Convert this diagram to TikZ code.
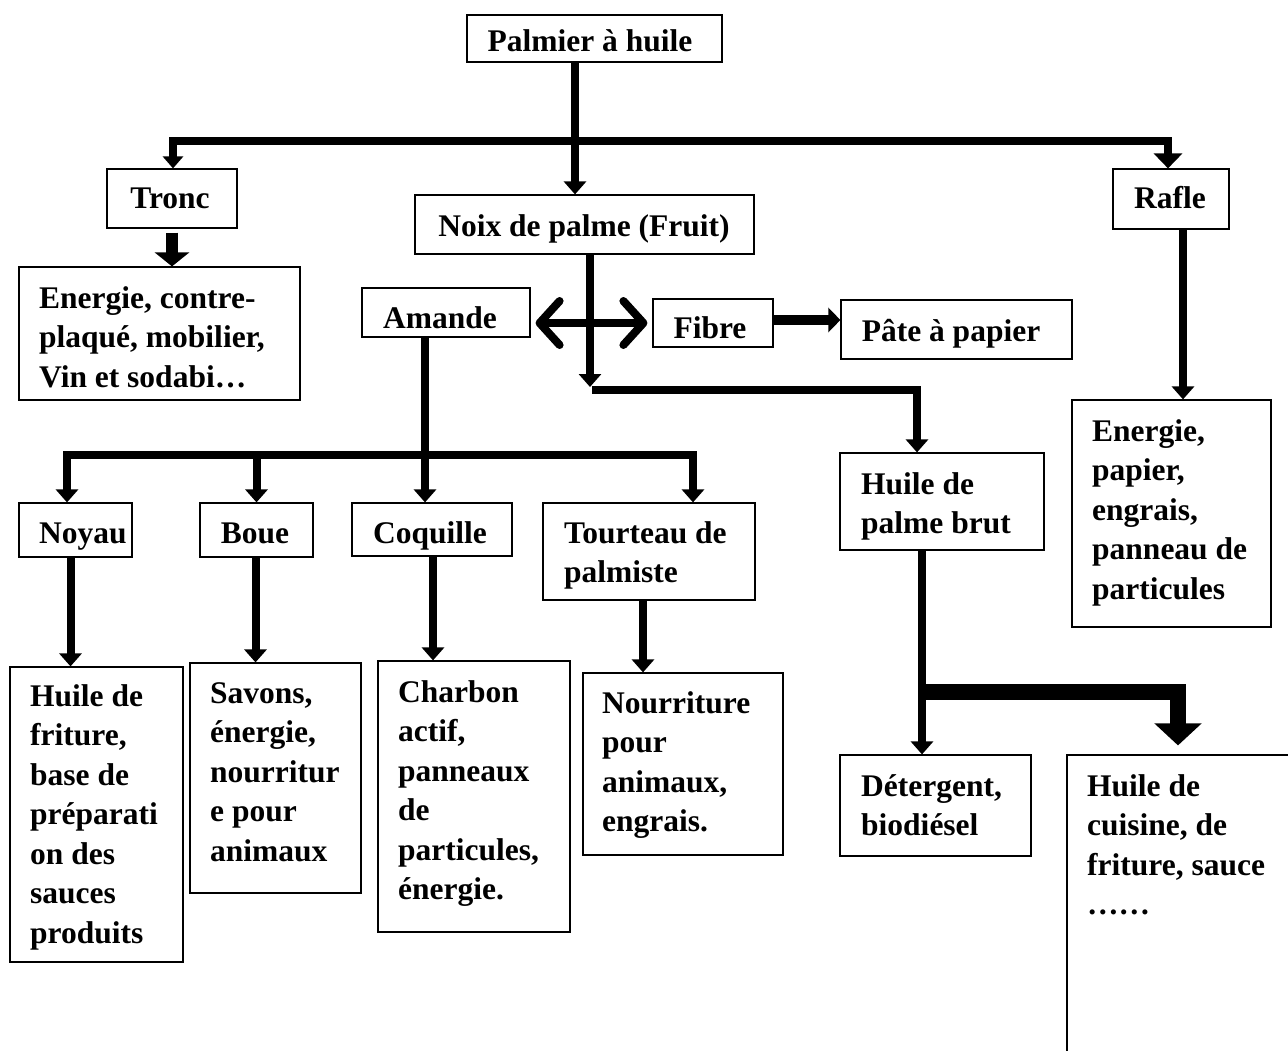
\documentclass[tikz,border=0pt]{standalone}
\usepackage{fontspec}
\setmainfont{Liberation Serif}
\usetikzlibrary{arrows.meta,fit}
\begin{document}
\begin{tikzpicture}[x=1pt,y=-1pt,
  box/.style={draw, line width=1.2pt, inner sep=0pt},
  lbl/.style={inner sep=0pt, anchor=base, font=\fontsize{31.5}{39.5}\selectfont\bfseries},
  ml/.style={inner sep=0pt, anchor=north west, align=left, yshift=27.65pt, font=\fontsize{31.5}{39.5}\selectfont\bfseries},
  conn/.style={line width=8pt, -{Triangle[length=13pt,width=22pt]}},
  both/.style={line width=8pt, {Triangle[length=13pt,width=22pt]}-{Triangle[length=13pt,width=22pt]}},
]
\useasboundingbox (0,0) rectangle (1288,1050);
\fill[white] (0,0) rectangle (1288,1050);

% ---- boxes
\node[box, fit={(467,15) (722,62)}] (palm) {};
\node[box, fit={(107,169) (237,228)}] (tronc) {};
\node[box, fit={(415,195) (754,254)}] (noix) {};
\node[box, fit={(1113,169) (1229,229)}] (rafle) {};
\node[box, fit={(19,267) (300,400)}] (ener) {};
\node[box, fit={(362,288) (530,337)}] (amande) {};
\node[box, fit={(653,299) (773,347)}] (fibre) {};
\node[box, fit={(841,300) (1072,359)}] (pate) {};
\node[box, fit={(1072,400) (1271,627)}] (rafo) {};
\node[box, fit={(840,453) (1044,550)}] (hpb) {};
\node[box, fit={(19,503) (132,557)}] (noyau) {};
\node[box, fit={(200,503) (313,557)}] (boue) {};
\node[box, fit={(352,503) (512,556)}] (coq) {};
\node[box, fit={(543,503) (755,600)}] (tourt) {};
\node[box, fit={(10,667) (183,962)}] (hf) {};
\node[box, fit={(190,663) (361,893)}] (sav) {};
\node[box, fit={(378,661) (570,932)}] (charb) {};
\node[box, fit={(583,673) (783,855)}] (nour) {};
\node[box, fit={(840,755) (1031,856)}] (det) {};
\node[box, fit={(1067,755) (1310,1080)}] (hc) {};

% ---- texts
\node[lbl] (palm-t) at (590,51) {Palmier à huile};
\node[lbl] (tronc-t) at (170,208) {Tronc};
\node[lbl] (noix-t) at (584,236) {Noix de palme (Fruit)};
\node[lbl] (rafle-t) at (1170,208) {Rafle};
\node[lbl] (amande-t) at (440,328) {Amande};
\node[lbl] (fibre-t) at (710,338) {Fibre};
\node[lbl] (pate-t) at (951,341) {Pâte à papier};
\node[lbl] (noyau-t) at (83,543) {Noyau};
\node[lbl] (boue-t) at (255,543) {Boue};
\node[lbl] (coq-t) at (430,543) {Coquille};

\node[ml] (ener-t) at (39,308) {\strut Energie, contre-\\plaqué, mobilier,\\Vin et sodabi…};
\node[ml] (rafo-t) at (1092,441) {\strut Energie,\\papier,\\engrais,\\panneau de\\particules};
\node[ml] (hpb-t) at (861,494) {\strut Huile de\\palme brut};
\node[ml] (tourt-t) at (564,543) {\strut Tourteau de\\palmiste};
\node[ml] (hf-t) at (30,706) {\strut Huile de\\friture,\\base de\\préparati\\on des\\sauces\\produits};
\node[ml] (sav-t) at (210,703) {\strut Savons,\\énergie,\\nourritur\\e pour\\animaux};
\node[ml] (charb-t) at (398,702) {\strut Charbon\\actif,\\panneaux\\de\\particules,\\énergie.};
\node[ml] (nour-t) at (602,713) {\strut Nourriture\\pour\\animaux,\\engrais.};
\node[ml] (det-t) at (861,796) {\strut Détergent,\\biodiésel};
\node[ml] (hc-t) at (1087,796) {\strut Huile de\\cuisine, de\\friture, sauce\\……};

% ---- junction coordinates
\coordinate (j1) at (575,141);
\coordinate (bt) at (173,141);
\coordinate (br) at (1168,141);
\coordinate (j2) at (590,387);
\coordinate (j2b) at (592,390);
\coordinate (j3) at (917,390);
\coordinate (ja) at (425,455);
\coordinate (bl) at (67,455);
\coordinate (bR) at (693,455);
\coordinate (hb) at (922,692);
\coordinate (hr) at (1178,692);

% ---- connectors
\draw[conn] (palm.south -| j1) -- (noix.north -| j1);
\draw[line width=8pt, {Triangle[length=15pt,width=28pt]}-{Triangle[length=12pt,width=20pt]}]
  (br |- rafle.north) -- (br) -- (bt) -- (bt |- tronc.north);
\draw[line width=12pt, -{Triangle[length=14pt,width=34pt]}]
  ([yshift=-4pt]tronc.south) -- (ener.north -| tronc.south);
\draw[conn] (noix.south -| j2) -- (j2);
\draw[conn] (j2b) -- (j3) -- (j3 |- hpb.north);
\draw[line width=8pt, {Straight Barb[round,length=20pt,width=44pt]}-{Straight Barb[round,length=20pt,width=44pt]}]
  ([xshift=5pt]amande.east |- fibre.west) -- ([xshift=-5pt]fibre.west);
\draw[line width=10pt, -{Triangle[length=12pt,width=24pt]}]
  ([yshift=3pt]fibre.east) -- ([yshift=3pt]pate.west |- fibre.east);
\draw[conn] (amande.south -| ja) -- (coq.north -| ja);
\draw[both] (noyau.north -| bl) -- (bl) -- (bR) -- (tourt.north -| bR);
\draw[conn] (boue.north |- bl) -- (boue.north);
\draw[conn] ([xshift=-5pt]noyau.south) -- ([xshift=-5pt]noyau.south |- hf.north);
\draw[conn] ([xshift=-1pt]boue.south) -- ([xshift=-1pt]boue.south |- sav.north);
\draw[conn] ([xshift=1pt]coq.south) -- ([xshift=1pt]coq.south |- charb.north);
\draw[conn] ([xshift=-6pt]tourt.south) -- ([xshift=-6pt]tourt.south |- nour.north);
\draw[conn] (hpb.south -| hb) -- (det.north -| hb);
\draw[line width=16pt, -{Triangle[length=22pt,width=46pt]}, shorten >=9pt] (hb) -- (hr) -- (hr |- hc.north);
\draw[conn] ([xshift=12pt]rafle.south) -- ([xshift=12pt]rafle.south |- rafo.north);
\end{tikzpicture}
\end{document}
